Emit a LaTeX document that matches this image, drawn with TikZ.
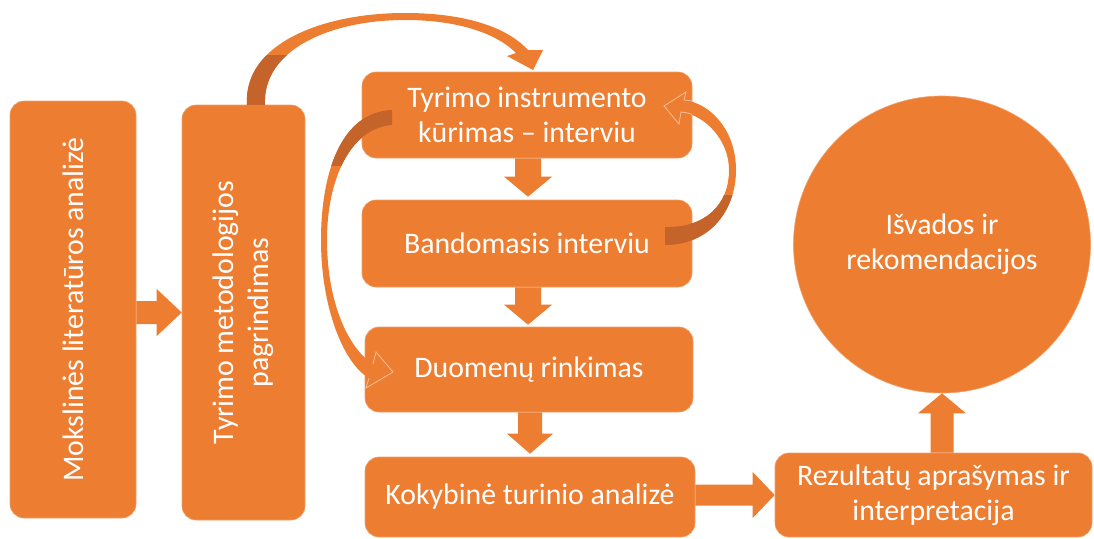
\documentclass[tikz,border=0pt]{standalone}
\usepackage{fontspec}
\setmainfont{Carlito}
\usetikzlibrary{calc}
\definecolor{acc}{HTML}{ED7D31}
\definecolor{accdark}{HTML}{C4632A}
\definecolor{accrim}{HTML}{F2A06A}
\definecolor{acclight}{HTML}{F6BE98}
\tikzset{
  box/.style={rectangle, rounded corners=14pt, fill=acc, draw=accrim, line width=0.6pt,
    text=white, align=center, inner sep=0pt, font=\fontsize{29.8}{35}\selectfont},
  roundbox/.style={box, circle, rounded corners=0pt},
  arrowfill/.style={fill=acc},
  curvefill/.style={fill=acc},
  curvedark/.style={fill=accdark},
  curveline/.style={draw=acclight, line width=0.8pt, line join=miter},
}
\newcommand\myharrow[5]{\fill[arrowfill] let \p1=(#1), \p2=(#2) in
  (\x1,\y2+#3) -- (\x2-#5,\y2+#3) -- (\x2-#5,\y2+#4) -- (\x2,\y2) --
  (\x2-#5,\y2-#4) -- (\x2-#5,\y2-#3) -- (\x1,\y2-#3) -- cycle;}
\newcommand\mydarrow[5]{\fill[arrowfill] let \p1=(#1), \p2=(#2) in
  (\x2-#3,\y1) -- (\x2-#3,\y2+#5) -- (\x2-#4,\y2+#5) -- (\x2,\y2) --
  (\x2+#4,\y2+#5) -- (\x2+#3,\y2+#5) -- (\x2+#3,\y1) -- cycle;}
\newcommand\myuarrow[5]{\fill[arrowfill] let \p1=(#1), \p2=(#2) in
  (\x2-#3,\y1) -- (\x2-#3,\y2-#5) -- (\x2-#4,\y2-#5) -- (\x2,\y2) --
  (\x2+#4,\y2-#5) -- (\x2+#3,\y2-#5) -- (\x2+#3,\y1) -- cycle;}
\begin{document}
\begin{tikzpicture}[x=1pt,y=-1pt]
\useasboundingbox (0,0) rectangle (1094,538);
% boxes
\node[box, rotate=90, minimum width=417pt, minimum height=126pt] (b1) at (73,309.5) {Mokslinės literatūros analizė};
\node[box, rotate=90, minimum width=415pt, minimum height=123pt] (b2) at (243.5,312.5) {Tyrimo metodologijos\\pagrindimas};
\node[box, minimum width=330pt, minimum height=86pt] (b3) at (527,115) {Tyrimo instrumento\\kūrimas – interviu};
\node[box, minimum width=330pt, minimum height=87pt] (b4) at (527,243.5) {Bandomasis interviu};
\node[box, minimum width=328pt, minimum height=85pt] (b5) at (529,369.5) {Duomenų rinkimas};
\node[box, minimum width=330pt, minimum height=80pt] (b6) at (530,497) {Kokybinė turinio analizė};
\node[box, minimum width=317pt, minimum height=84pt] (b7) at (933.5,495) {Rezultatų aprašymas ir\\interpretacija};
\node[roundbox, minimum size=297pt] (c) at (942,244.5) {Išvados ir\\rekomendacijos};
% block arrows
\myharrow{b1.south}{b2.north}{11.5pt}{23.5pt}{25pt}
\mydarrow{b3.south}{$(b4.north)+(1,-3)$}{13pt}{24pt}{20pt}
\mydarrow{b4.south}{$(b5.north)+(-1,-2)$}{13pt}{24pt}{20pt}
\mydarrow{b5.south}{$(b6.north)+(0,-3)$}{12pt}{23pt}{20pt}
\myharrow{b6.east}{b7.west}{10.5pt}{23pt}{22pt}
\myuarrow{b7.north}{c.south}{11.5pt}{24pt}{20pt}
% curved arrow A: b2 -> b3
\def\curveA{(247,105) .. controls (243,45) and (320,13) .. (405,13) .. controls (460,13) and (505,25) .. (528,50) -- (543,50) -- (533,70) -- (507,56) -- (516,53) .. controls (495,32) and (455,20) .. (405,20) .. controls (330,20) and (262,50) .. (265,105) -- cycle}
\fill[curvefill] \curveA;
\begin{scope}
\clip (200,55) rectangle (300,106);
\fill[curvedark] \curveA;
\end{scope}
% curved arrow B: b3 -> b5
\def\curveB{(392,110) .. controls (340,112) and (321,175) .. (321,240) .. controls (321,310) and (345,365) .. (369,378) -- (366,388) -- (393,372) -- (376,352) -- (373,364) .. controls (350,350) and (327,305) .. (327,240) .. controls (327,180) and (350,128) .. (392,125) -- cycle}
\fill[curvefill] \curveB;
\begin{scope}
\clip (300,100) rectangle (400,165);
\fill[curvedark] \curveB;
\end{scope}
\draw[curveline] (369,378) -- (366,388) -- (393,372) -- (376,352) -- (373,364);
% curved arrow C: b4 -> b3
\def\curveC{(665,245) .. controls (710,245) and (736,210) .. (736,170) .. controls (736,130) and (710,103) .. (684,100) -- (686,92) -- (664,106) -- (679,124) -- (681,112) .. controls (705,115) and (729,140) .. (729,170) .. controls (729,205) and (705,228) .. (665,227) -- cycle}
\fill[curvefill] \curveC;
\begin{scope}
\clip (640,195) rectangle (745,250);
\fill[curvedark] \curveC;
\end{scope}
\draw[curveline] (692,101) -- (684,100) -- (686,92) -- (664,106) -- (679,124) -- (681,112) .. controls (686,112.5) and (690,113.5) .. (692,114.5);
\end{tikzpicture}
\end{document}
